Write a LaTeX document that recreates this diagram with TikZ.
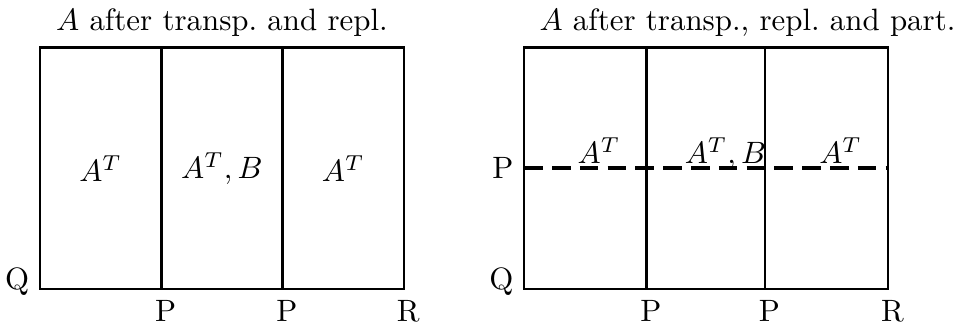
\documentclass[tikz,border=0pt]{standalone}
\usepackage{amsmath}
\usepackage{tikz}
\usetikzlibrary{positioning, calc}

\tikzset{
  blockline/.style={draw=black, thick},
  cutline/.style={draw=black, very thick, dash pattern=on 6pt off 3pt},
  sidelbl/.style={font=\normalsize, inner sep=3.33pt}
}

\begin{document}
\begin{tikzpicture}
  \useasboundingbox (-0.455,-0.42) rectangle (10.48,3.29);

  % Left block: after transposition and replication
  \coordinate (lq) at (0,0);
  \coordinate (lr) at (4.14,0);
  \coordinate (lt) at (4.14,2.75);
  \coordinate (lp1) at (1.38,0);
  \coordinate (lp2) at (2.76,0);
  \draw[blockline] (lq) rectangle (lt);
  \draw[blockline] (lp1) -- (1.38,2.75);
  \draw[blockline] (lp2) -- (2.76,2.75);
  \node (la1) at (0.69,1.375) {$A^T$};
  \node (la2) at (2.07,1.375) {$A^T, B$};
  \node (la3) at (3.45,1.375) {$A^T$};
  \node[sidelbl, anchor=base east] (lql) at (lq) {Q};
  \node[sidelbl, below=0pt of lp1, xshift=0.05cm] (lpl1) {P};
  \node[sidelbl, below=0pt of lp2, xshift=0.05cm] (lpl2) {P};
  \node[sidelbl, below=0pt of lr, xshift=0.05cm] (lrl) {R};
  \node[above] (ltitle) at (2.07,2.75) {$A$ after transp.\ and repl.};

  % Right block: after transposition, replication and partitioning
  \coordinate (rq) at (5.51,0);
  \coordinate (rr) at (9.65,0);
  \coordinate (rt) at (9.65,2.75);
  \coordinate (rp1) at (6.90,0);
  \coordinate (rp2) at (8.25,0);
  \coordinate (rm) at (5.51,1.375);
  \coordinate (rme) at (9.65,1.375);
  \draw[blockline] (rq) rectangle (rt);
  \draw[blockline] (rp1) -- (6.90,2.75);
  \draw[blockline] (rp2) -- (8.25,2.75);
  \draw[cutline] (rm) -- (rme);
  \node[anchor=base] (ra1) at (6.36,1.43) {$A^T$};
  \node[anchor=base] (ra2) at (7.80,1.43) {$A^T, B$};
  \node[anchor=base] (ra3) at (9.11,1.43) {$A^T$};
  \node[sidelbl, anchor=base east] (rql) at (rq) {Q};
  \node[sidelbl, left=0pt of rm] (rml) {P};
  \node[sidelbl, below=0pt of rp1, xshift=0.05cm] (rpl1) {P};
  \node[sidelbl, below=0pt of rp2, xshift=0.05cm] (rpl2) {P};
  \node[sidelbl, below=0pt of rr, xshift=0.05cm] (rrl) {R};
  \node[above] (rtitle) at (8.05,2.75) {$A$ after transp., repl.\ and part.};
\end{tikzpicture}
\end{document}
